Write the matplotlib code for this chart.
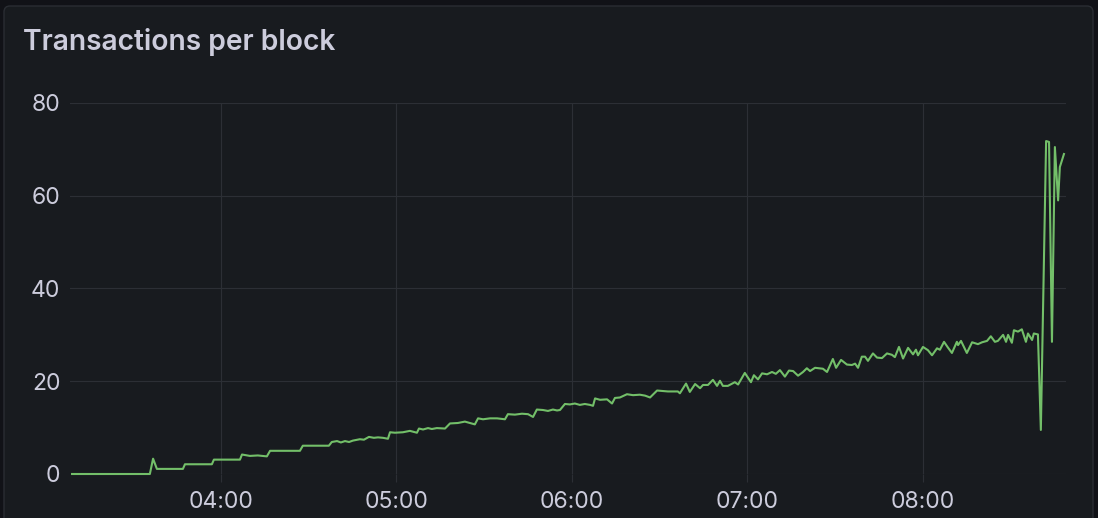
import matplotlib
matplotlib.use('Agg')
import matplotlib.pyplot as plt
from matplotlib.patches import FancyBboxPatch

# minutes after 03:00
minutes = [9.1, 35.7, 36.8, 38.1, 47.0, 47.7, 56.9, 57.6, 66.5, 67.2, 69.9, 72.6, 75.7,
           76.8, 87.0, 88.0, 96.9, 97.9, 99.7, 101.0, 102.4, 103.8, 105.1, 107.5, 108.9,
           110.6, 112.3, 113.7, 115.4, 117.1, 117.8, 119.5, 122.2, 124.6, 127.0, 127.7,
           129.1, 130.8, 132.1, 133.8, 136.6, 138.3, 141.0, 143.4, 145.1, 146.8, 147.9,
           149.6, 152.0, 154.4, 157.1, 158.1, 160.5, 162.9, 165.0, 166.7, 168.0, 170.1,
           171.8, 173.5, 174.9, 175.9, 177.6, 179.3, 181.0, 182.7, 184.4, 186.2, 187.2,
           187.9, 189.6, 192.0, 193.7, 194.7, 196.4, 198.8, 200.9, 203.2, 205.0, 206.7,
           209.1, 210.8, 212.8, 214.5, 216.2, 216.9, 219.0, 220.3, 222.1, 223.8, 224.8,
           226.5, 228.2, 229.6, 230.6, 231.6, 233.3, 235.7, 236.8, 239.1, 241.2, 242.2,
           243.6, 245.0, 246.7, 248.4, 249.7, 251.1, 252.8, 254.2, 255.6, 257.3, 259.0,
           260.3, 261.4, 263.1, 265.8, 267.2, 269.2, 270.3, 272.0, 274.0, 275.7, 276.8,
           277.8, 279.1, 280.2, 281.2, 282.9, 284.3, 286.0, 287.7, 289.4, 290.4, 291.8,
           293.2, 294.9, 296.6, 297.6, 298.3, 300.0, 301.7, 303.1, 304.8, 305.8, 307.2,
           308.5, 309.9, 311.6, 312.0, 313.0, 315.0, 316.8, 318.8, 320.2, 321.9, 323.2,
           324.6, 325.6, 327.4, 328.4, 329.1, 330.4, 331.1, 332.5, 333.8, 335.2, 335.9,
           337.3, 337.9, 339.3, 340.3, 342.1, 343.1, 344.1, 345.1, 346.2, 346.8, 348.2]

tx_per_block = [0.0, 0.0, 3.3, 1.1, 1.1, 2.1, 2.1, 3.1, 3.1, 4.2, 3.9, 4.0, 3.8,
                5.0, 5.0, 6.1, 6.1, 6.9, 7.1, 6.8, 7.1, 6.9, 7.2, 7.5, 7.4,
                8.0, 7.8, 7.9, 7.8, 7.6, 9.0, 8.9, 9.0, 9.3, 8.9, 9.8,
                9.6, 9.9, 9.7, 9.9, 9.8, 10.9, 11.0, 11.3, 11.0, 10.7, 12.0,
                11.8, 12.0, 12.0, 11.8, 12.9, 12.8, 13.0, 12.9, 12.3, 13.9, 13.8,
                13.6, 13.9, 13.7, 13.8, 15.1, 15.0, 15.2, 14.9, 15.1, 14.9, 14.7,
                16.3, 16.0, 16.1, 15.2, 16.4, 16.5, 17.2, 17.0, 17.1, 16.9, 16.5,
                18.0, 17.9, 17.8, 17.8, 17.8, 17.4, 19.5, 17.7, 19.4, 18.5, 19.2,
                19.2, 20.3, 19.0, 20.1, 19.0, 19.0, 19.8, 19.3, 21.8, 19.8, 21.3,
                20.4, 21.7, 21.5, 22.0, 21.6, 22.4, 21.0, 22.3, 22.2, 21.2, 22.0,
                22.8, 22.2, 22.9, 22.7, 22.0, 24.8, 22.9, 24.6, 23.6, 23.5, 23.8,
                22.9, 25.3, 25.3, 24.4, 26.0, 25.1, 25.0, 26.0, 25.7, 25.2, 27.4,
                24.9, 27.2, 25.8, 26.8, 25.6, 27.4, 26.7, 25.6, 27.1, 26.8, 28.5,
                27.3, 26.1, 28.5, 27.8, 28.7, 26.1, 28.4, 28.0, 28.4, 28.7, 29.7,
                28.5, 28.7, 30.0, 28.5, 30.0, 28.3, 31.0, 30.7, 31.2, 28.5, 30.3,
                28.9, 30.3, 30.1, 9.5, 71.8, 71.6, 28.5, 70.5, 59.0, 66.2, 69.0]

x_ticks = [60, 120, 180, 240, 300]
x_labels = ['04:00', '05:00', '06:00', '07:00', '08:00']
y_ticks = [0, 20, 40, 60, 80]
x_range = [8.4, 348.9]

W, H = 1098, 518
fig = plt.figure(figsize=(W / 100, H / 100), dpi=100, facecolor='#111217')

panel = FancyBboxPatch((4, -20), 1089, 532, boxstyle='round,pad=0,rounding_size=6',
                       facecolor='#181b1f', edgecolor='#2a2d33', linewidth=1.0,
                       transform=None, zorder=0)
fig.add_artist(panel)

ax = fig.add_axes([70 / W, 44 / H, 996 / W, 371 / H])
ax.set_facecolor('none')
ax.plot(minutes, tx_per_block, color='#73bf69', linewidth=1.5, zorder=3,
        clip_on=False)
ax.set_xlim(*x_range)
ax.set_ylim(0, 80)
ax.set_xticks(x_ticks)
ax.set_xticklabels(x_labels)
ax.set_yticks(y_ticks)

grid_c = '#2c2f35'
ax.grid(True, color=grid_c, linewidth=0.8)
for s in ax.spines.values():
    s.set_visible(False)

ax.tick_params(axis='y', length=0, pad=7, labelcolor='#ccccdc', labelsize=16.5)
ax.tick_params(axis='x', length=6, width=0.8, color=grid_c, pad=6,
               labelcolor='#ccccdc', labelsize=16.5)
for lab in ax.get_xticklabels() + ax.get_yticklabels():
    lab.set_family('Inter')

fig.text(23 / W, (H - 50) / H, 'Transactions per block', ha='left', va='baseline',
         fontsize=20.3, color='#ccccdc', fontweight='semibold', family='Inter')

fig.savefig('out.png', dpi=100, facecolor=fig.get_facecolor())
